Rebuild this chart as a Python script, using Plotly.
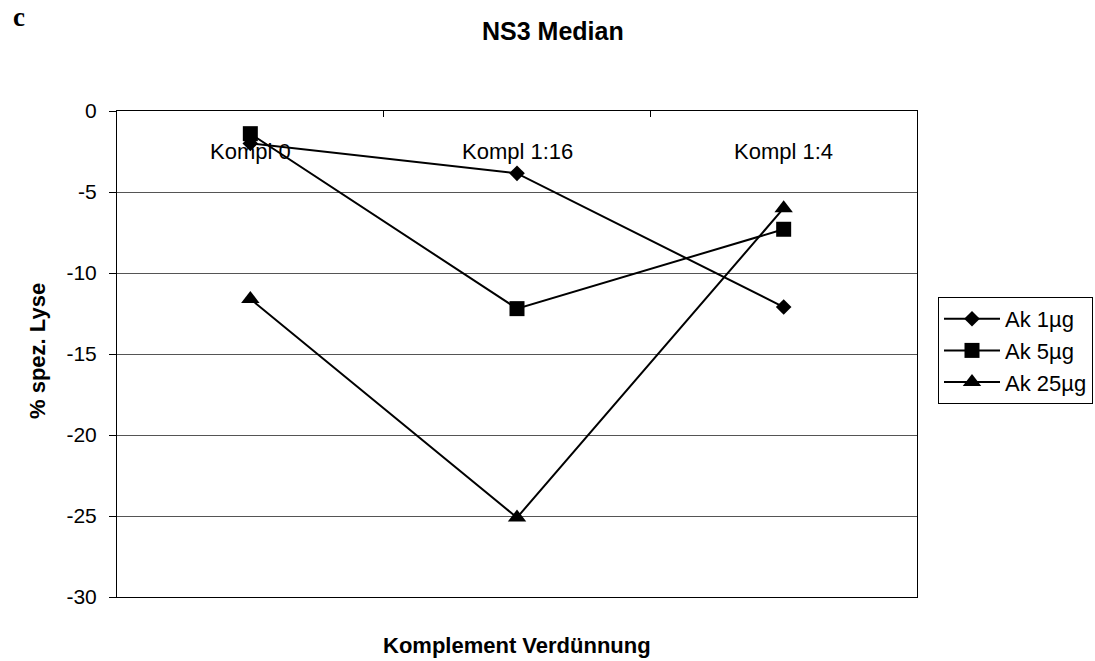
import plotly.graph_objects as go

# Complement dilution steps and median specific lysis (%) per antibody dose
categories = ["Kompl 0", "Kompl 1:16", "Kompl 1:4"]
ak_1ug = [-2.0, -3.85, -12.1]
ak_5ug = [-1.4, -12.2, -7.3]
ak_25ug = [-11.6, -25.1, -6.0]
y_ticks = [0, -5, -10, -15, -20, -25, -30]

series = [
    ("Ak 1µg", ak_1ug, "diamond", 12),
    ("Ak 5µg", ak_5ug, "square", 15),
    ("Ak 25µg", ak_25ug, "triangle-up", 16),
]

W, H = 1095, 661
L, R, T, B = 117, 917, 111, 597  # plot area in pixels
pw, ph = R - L, B - T


def px_x(x):
    return (x - L) / pw


def px_y(y):
    return (B - y) / ph


fig = go.Figure()
for name, vals, symbol, size in series:
    fig.add_trace(go.Scatter(
        x=categories, y=vals, name=name, mode="lines+markers",
        line=dict(color="black", width=2),
        marker=dict(symbol=symbol, size=size, color="black"),
    ))

sans = "Liberation Sans, Arial, sans-serif"

# Category labels sit just below the y=0 crossing line
annotations = [
    dict(x=c, y=0, xref="x", yref="y", text=c, showarrow=False,
         yanchor="middle", yshift=-40, font=dict(family=sans, size=22, color="black"))
    for c in categories
]
annotations += [
    dict(x=px_x(517), y=px_y(645), xref="paper", yref="paper",
         text="<b>Komplement Verdünnung</b>", showarrow=False,
         xanchor="center", yanchor="middle", font=dict(family=sans, size=22, color="black")),
    dict(x=px_x(37), y=px_y(351), xref="paper", yref="paper",
         text="<b>% spez. Lyse</b>", showarrow=False, textangle=-90,
         xanchor="center", yanchor="middle", font=dict(family=sans, size=22, color="black")),
    dict(x=px_x(553), y=px_y(31), xref="paper", yref="paper",
         text="<b>NS3 Median</b>", showarrow=False,
         xanchor="center", yanchor="middle", font=dict(family=sans, size=25, color="black")),
    dict(x=px_x(19), y=px_y(17), xref="paper", yref="paper", text="<b>c</b>", showarrow=False,
         xanchor="center", yanchor="middle",
         font=dict(family="Liberation Serif, Times New Roman, serif", size=27, color="black")),
]

fig.update_layout(
    width=W, height=H,
    margin=dict(l=L, r=W - R, t=T, b=H - B, autoexpand=False),
    paper_bgcolor="white", plot_bgcolor="white",
    font=dict(family=sans, size=21, color="black"),
    showlegend=True,
    legend=dict(x=px_x(938), y=px_y(297), xanchor="left", yanchor="top",
                bordercolor="black", borderwidth=1, bgcolor="white",
                font=dict(family=sans, size=22), tracegroupgap=0, itemwidth=56),
    annotations=annotations,
)

fig.update_xaxes(
    type="category", range=[-0.5, 2.5], side="top",
    showticklabels=False, ticks="inside", ticklen=6, tickcolor="black",
    tickson="boundaries", showgrid=False,
    showline=True, linecolor="black", linewidth=1, mirror=True,
)
fig.update_yaxes(
    range=[-30, 0], tickvals=y_ticks, ticktext=[str(v) for v in y_ticks],
    ticks="outside", ticklen=7, tickcolor="black", ticklabelstandoff=8,
    showgrid=True, gridcolor="#555555", gridwidth=1, zeroline=False,
    showline=True, linecolor="black", linewidth=1, mirror=True,
    tickfont=dict(family=sans, size=21),
)

fig.write_html("out.html")
